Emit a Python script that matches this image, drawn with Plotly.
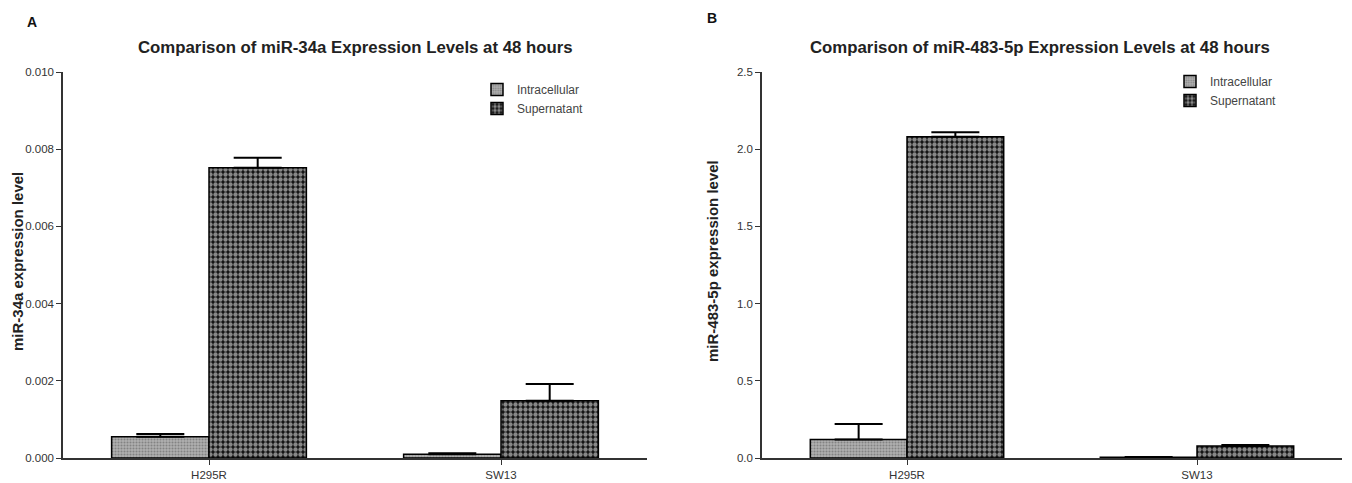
import plotly.graph_objects as go

categories = ["H295R", "SW13"]

# Panel A: miR-34a
a_intra = [0.00055, 0.00010]
a_intra_err = [0.00007, 0.00002]
a_super = [0.00752, 0.00148]
a_super_err = [0.00026, 0.00044]

# Panel B: miR-483-5p
b_intra = [0.12, 0.005]
b_intra_err = [0.10, 0.002]
b_super = [2.08, 0.077]
b_super_err = [0.03, 0.008]

a_yticks = [0.000, 0.002, 0.004, 0.006, 0.008, 0.010]
b_yticks = [0.0, 0.5, 1.0, 1.5, 2.0, 2.5]

FONT = "Liberation Sans, Arial, sans-serif"
intra_pattern = dict(shape=".", fgcolor="#555555", bgcolor="#b0b0b0", size=3, solidity=0.4)
super_pattern = dict(shape=".", fgcolor="#ffffff", bgcolor="#111111", size=5, solidity=0.6)

fig = go.Figure()


def add_bars(x, y, err, name, pattern, xa, ya, legend):
    fig.add_trace(go.Bar(
        x=x, y=y, name=name, xaxis=xa, yaxis=ya, legend=legend,
        marker=dict(color=pattern["bgcolor"], pattern=pattern,
                    line=dict(color="#000000", width=1.5)),
        error_y=dict(type="data", array=err, arrayminus=[0] * len(err), symmetric=False,
                     color="#000000", thickness=2, width=24),
    ))


add_bars(categories, a_intra, a_intra_err, "Intracellular", intra_pattern, "x", "y", "legend")
add_bars(categories, a_super, a_super_err, "Supernatant", super_pattern, "x", "y", "legend")
add_bars(categories, b_intra, b_intra_err, "Intracellular", intra_pattern, "x2", "y2", "legend2")
add_bars(categories, b_super, b_super_err, "Supernatant", super_pattern, "x2", "y2", "legend2")

# page body has an 8px margin; offset the figure coordinates accordingly
OFF = 8
W, H = 1352 - OFF, 483 - OFF


def px(x):
    return (x - OFF) / W


def py(y):
    return (H - (y - OFF)) / H


ydom = [py(458), py(72)]

axis_common = dict(showline=True, linecolor="#333333", linewidth=1.5, showgrid=False,
                   zeroline=False, ticks="outside", ticklen=5, tickwidth=1.2, tickcolor="#333333",
                   automargin=False,
                   tickfont=dict(family=FONT, size=11.5, color="#333333"))

fig.update_layout(
    width=W, height=H,
    margin=dict(l=0, r=0, t=0, b=0, autoexpand=False),
    paper_bgcolor="white", plot_bgcolor="white",
    barmode="group", bargap=0.333, bargroupgap=0,
    font=dict(family=FONT, color="#333333"),
    xaxis=dict(domain=[px(63), px(647)], range=[-0.5, 1.5], anchor="y", **axis_common),
    yaxis=dict(domain=ydom, range=[0, 0.010], tickvals=a_yticks, tickformat=".3f",
               anchor="x", **axis_common),
    xaxis2=dict(domain=[px(762), px(1342)], range=[-0.5, 1.5], anchor="y2", **axis_common),
    yaxis2=dict(domain=ydom, range=[0, 2.5], tickvals=b_yticks, tickformat=".1f",
                anchor="x2", **axis_common),
    legend=dict(x=px(469 + OFF), y=py(67 + OFF), xanchor="left", yanchor="top",
                bgcolor="rgba(0,0,0,0)", tracegroupgap=2,
                font=dict(family=FONT, size=12, color="#444444")),
    legend2=dict(x=px(1162 + OFF), y=py(59 + OFF), xanchor="left", yanchor="top",
                 bgcolor="rgba(0,0,0,0)", tracegroupgap=2,
                 font=dict(family=FONT, size=12, color="#444444")),
    annotations=[
        dict(text="<b>A</b>", x=px(32), y=py(22), xref="paper", yref="paper",
             xanchor="center", yanchor="middle",
             showarrow=False, font=dict(family=FONT, size=14, color="#111111")),
        dict(text="<b>B</b>", x=px(712), y=py(18), xref="paper", yref="paper",
             xanchor="center", yanchor="middle",
             showarrow=False, font=dict(family=FONT, size=14, color="#111111")),
        dict(text="<b>Comparison of miR-34a Expression Levels at 48 hours</b>",
             x=px(355), y=py(47), xref="paper", yref="paper", showarrow=False,
             xanchor="center", yanchor="middle",
             font=dict(family=FONT, size=16.8, color="#222222")),
        dict(text="<b>Comparison of miR-483-5p Expression Levels at 48 hours</b>",
             x=px(1040), y=py(47), xref="paper", yref="paper", showarrow=False,
             xanchor="center", yanchor="middle",
             font=dict(family=FONT, size=16.8, color="#222222")),
        dict(text="<b>miR-34a expression level</b>", textangle=-90,
             x=px(17), y=py(262), xref="paper", yref="paper", showarrow=False,
             xanchor="center", yanchor="middle",
             font=dict(family=FONT, size=15, color="#222222")),
        dict(text="<b>miR-483-5p expression level</b>", textangle=-90,
             x=px(713), y=py(261), xref="paper", yref="paper", showarrow=False,
             xanchor="center", yanchor="middle",
             font=dict(family=FONT, size=15, color="#222222")),
    ],
)

fig.write_html("out.html")
